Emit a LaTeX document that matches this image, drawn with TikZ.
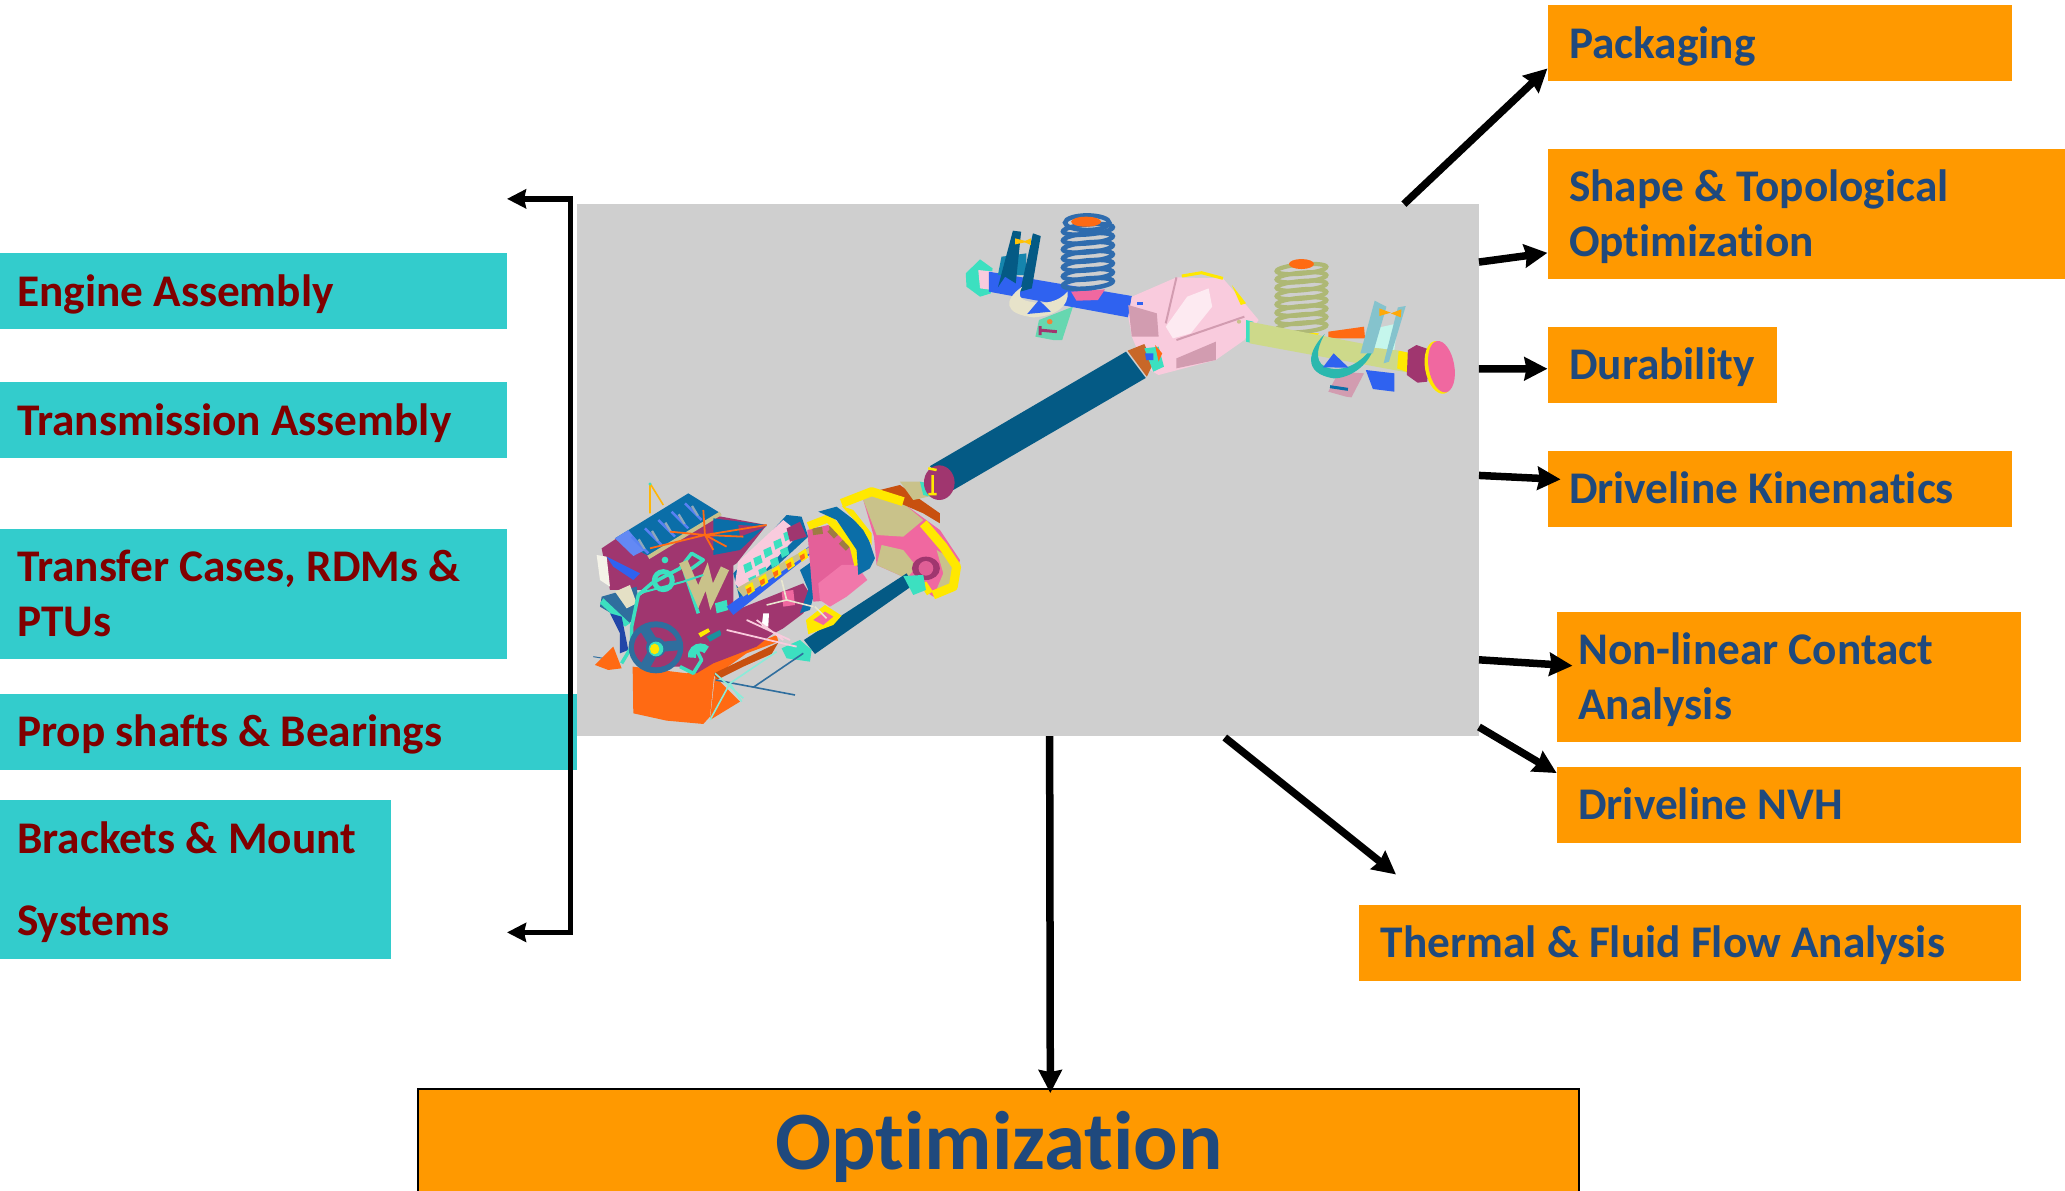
\documentclass[tikz,border=0pt]{standalone}
\usepackage{fontspec}
\setmainfont{Carlito}[Ligatures=NoCommon]
\usetikzlibrary{arrows.meta,calc}
\definecolor{tealbox}{HTML}{33CCCC}
\definecolor{orangebox}{HTML}{FF9900}
\definecolor{darkred}{HTML}{800000}
\definecolor{navytext}{HTML}{1F497D}
\definecolor{imggray}{HTML}{CFCFCF}
\definecolor{shaft}{HTML}{045A85}
\definecolor{purp}{HTML}{A0366F}
\definecolor{cyn}{HTML}{3CE0C0}
\definecolor{pk}{HTML}{F068A0}
\definecolor{stl}{HTML}{2F6E9E}
\definecolor{org}{HTML}{FF6A13}
\definecolor{brn}{HTML}{C8500F}
\definecolor{ylw}{HTML}{FFE800}
\definecolor{khk}{HTML}{C9C28A}
\definecolor{blu}{HTML}{2F62F0}
\definecolor{dkb}{HTML}{0B6EA8}
\definecolor{lpk}{HTML}{F9CBDD}
\definecolor{rose}{HTML}{D29CB0}
\definecolor{olv}{HTML}{CDD98A}
\newcommand\tp{\rule{0pt}{41pt}}
\newcommand\bt{\rule[-11pt]{0pt}{11pt}}
\newcommand\lblfont{\fontsize{45.3}{55}\selectfont\bfseries}
\newcommand\lblfontwide{\fontsize{45.3}{82}\selectfont\bfseries}
\tikzset{
  tealnode/.style={draw=none,fill=tealbox,text=darkred,anchor=north west,inner xsep=17pt,inner ysep=0pt,align=flush left,font=\lblfont},
  orangenode/.style={draw=none,fill=orangebox,text=navytext,anchor=north west,inner xsep=21.5pt,inner ysep=0pt,align=flush left,font=\lblfont},
  arrowline/.style={draw=black,line width=7.5pt,-{Stealth[length=23pt,width=23pt,inset=2pt]}},
  bracketline/.style={draw=black,line width=5.5pt,{Stealth[length=19pt,width=19pt,inset=2pt]}-{Stealth[length=19pt,width=19pt,inset=2pt]}},
}
\begin{document}
\begin{tikzpicture}[x=1.317pt,y=-1.317pt]
\useasboundingbox (0,0) rectangle (1568,904.3);
% image panel
\node[fill=imggray,anchor=north west,inner sep=0pt,minimum width=902pt,minimum height=532pt] (img) at (438,155) {};
% teal boxes
\node[tealnode,text width=473pt,minimum height=76pt] (engine) at (0,192) {\tp Engine Assembly\bt};
\node[tealnode,text width=473pt,minimum height=76pt] (trans) at (0,290) {\tp Transmission Assembly\bt};
\node[tealnode,text width=473pt,minimum height=130pt] (transfer) at (0,401.5) {\tp Transfer Cases, RDMs \&\\PTUs\bt};
\node[tealnode,text width=543pt,minimum height=76pt] (prop) at (0,526.5) {\tp Prop shafts \& Bearings\bt};
\node[tealnode,text width=357pt,minimum height=159pt,font=\lblfontwide] (brackets) at (0,607) {\tp Brackets \& Mount\\Systems\bt};
% orange boxes
\node[orangenode,text width=421.5pt,minimum height=76pt] (pack) at (1175,4) {\tp Packaging\bt};
\node[orangenode,text width=474.6pt,minimum height=130pt] (shape) at (1175,113) {\tp Shape \& Topological\\Optimization\bt};
\node[orangenode,text width=186pt,minimum height=76pt] (dur) at (1175,248) {\tp Durability\bt};
\node[orangenode,text width=421.5pt,minimum height=76pt] (dk) at (1175,342) {\tp Driveline Kinematics\bt};
\node[orangenode,text width=421.5pt,minimum height=130pt] (nl) at (1182,464.5) {\tp Non-linear Contact\\Analysis\bt};
\node[orangenode,text width=421.5pt,minimum height=76pt] (nvh) at (1182,582) {\tp Driveline NVH\bt};
\node[orangenode,text width=619pt,minimum height=76pt] (therm) at (1032,687) {\tp Thermal \& Fluid Flow Analysis\bt};
\node[draw=black,line width=2pt,fill=orangebox,anchor=north west,inner sep=0pt,minimum width=1161pt,minimum height=111pt,text=navytext,font=\fontsize{83}{90}\selectfont\bfseries] (opt) at (317,826) {\rule[-20pt]{0pt}{90pt}Optimization};

% upper prop shaft (in picture units)
\fill[shaft] (706,354) -- (855,267) -- (870,287) -- (724,372) -- cycle;

% ---- engine, transmission, transfer case
\begin{scope}[shift={(432.8,341.7)},x=0.3333pt,y=-0.3333pt]
  % guide lines behind
  \draw[stl,line width=1pt] (70,620) -- (130,630);
  % foot
  \fill[org] (75,645) -- (130,590) -- (155,655) -- (115,660) -- cycle;
  % oil pan
  \fill[org] (188,650) -- (190,790) -- (290,812) -- (400,822) -- (420,800) -- (432,680) -- (530,610) -- (625,575) -- (620,555) -- (430,635) -- (350,670) -- cycle;
  \fill[brn] (432,670) -- (625,578) -- (605,612) -- (520,650) -- (440,690) -- cycle;
  \fill[org] (435,680) -- (510,755) -- (420,810) -- cycle;
  % cylinder bank left: purple underside
  \fill[purp] (95,295) -- (140,265) -- (240,320) -- (400,190) -- (590,225) -- (500,340) -- (400,400) -- (240,420) -- (120,420) -- cycle;
  % valve cover
  \fill[dkb] (135,265) -- (355,130) -- (452,190) -- (240,320) -- cycle;
  \fill[blu!75!white] (135,265) -- (175,240) -- (225,300) -- (190,318) -- cycle;
  \foreach \a/\b in {185/260,225/235,265/210,305/185,345/160}{
    \draw[blu!80!white,line width=2.5pt] (\a,\b) -- +(50,50);
    \fill[imggray!60!stl] (\a+18,\b+10) -- +(6,-4) -- +(24,26) -- +(18,28) -- cycle;
  }
  \draw[khk,line width=4pt] (235,322) -- (452,190);
  \fill[dkb] (430,205) -- (590,225) -- (510,300) -- (430,315) -- cycle;
  \fill[purp] (505,225) -- (590,230) -- (510,260) -- cycle;
  % left accessories
  \fill[white!80!khk] (80,315) -- (110,320) -- (120,410) -- (90,390) -- cycle;
  \fill[blu] (110,320) -- (210,370) -- (190,390) -- (130,350) -- cycle;
  \fill[stl] (95,440) -- (200,410) -- (210,500) -- (175,520) -- (90,470) -- cycle;
  \fill[khk!50!white] (135,425) -- (180,405) -- (200,460) -- (170,475) -- cycle;
  \fill[cyn] (90,460) -- (100,445) -- (180,520) -- (165,530) -- cycle;
  \fill[blu!70!black] (120,490) -- (155,500) -- (175,600) -- (150,610) -- (150,550) -- cycle;
  % front face
  \fill[purp] (180,590) -- (185,530) -- (205,440) -- (335,360) -- (490,340) -- (490,470) -- (640,525) -- (560,590) -- (430,640) -- (380,670) -- (330,650) -- (215,650) -- cycle;
  \draw[cyn,line width=3.5pt,line join=round] (155,640) -- (185,590) -- (185,530) -- (205,435) -- (245,400) -- (330,355) -- (365,310) -- (400,330) -- (380,345) -- (345,370) -- (385,490);
  \draw[cyn,line width=3.5pt,line join=round] (375,590) -- (395,630) -- (370,670) -- (330,650);
  \draw[khk,line width=9pt] (340,335) -- (385,440) -- (410,380) -- (425,440) -- (465,355);
  \draw[cyn,line width=5pt] (280,392) circle[radius=27];
  \fill[cyn] (285,330) circle[radius=10];
  \fill[cyn] (435,460) -- (470,450) -- (475,480) -- (440,490) -- cycle;
  \draw[cyn,line width=2pt] (215,428) -- (340,395) -- (400,375);
  % pulley
  \fill[stl] (258,592) ellipse[x radius=82,y radius=78];
  \fill[purp] (258,592) ellipse[x radius=66,y radius=60];
  \fill[stl] (258,592) ellipse[x radius=30,y radius=30];
  \draw[stl,line width=10pt] (258,592) -- (220,530) (258,592) -- (335,585) (258,592) -- (225,650);
  \fill[cyn] (258,597) ellipse[x radius=22,y radius=22];
  \fill[ylw] (254,597) ellipse[x radius=14,y radius=16];
  % alternator
  \draw[cyn,line width=8pt] (410,600) arc[start angle=-45,end angle=-190,radius=26];
  \fill[ylw] (385,550) -- (415,535) -- (420,545) -- (392,562) -- cycle;
  \fill[shaft!60!cyn] (410,560) -- (450,540) -- (455,555) -- (420,575) -- cycle;
  % lower right block
  \fill[purp] (430,625) -- (475,490) -- (700,400) -- (725,440) -- (700,490) -- (640,535) -- (520,600) -- cycle;
  \fill[dkb] (690,360) -- (725,335) -- (740,400) -- (720,480) -- (690,490) -- (715,420) -- cycle;
  % right cylinder head
  \fill[dkb] (490,370) -- (650,195) -- (695,200) -- (715,260) -- (510,450) -- cycle;
  \fill[lpk] (505,335) -- (640,210) -- (690,250) -- (520,430) -- (495,400) -- cycle;
  \foreach \a/\b in {520/345,550/325,580/300,610/275,640/250,535/385,565/360,600/330,630/300}{
    \fill[cyn] (\a,\b) -- +(22,-10) -- +(28,12) -- +(6,24) -- cycle;
  }
  \fill[purp] (650,235) -- (690,215) -- (710,260) -- (660,275) -- cycle;
  % yellow fuel rail
  \fill[blu] (470,470) -- (730,280) -- (725,310) -- (490,495) -- cycle;
  \fill[khk] (500,415) -- (730,285) -- (725,305) -- (520,440) -- cycle;
  \foreach \a/\b in {525/410,565/385,605/360,645/335,685/310}{
    \fill[ylw] (\a,\b) -- +(22,-14) -- +(30,12) -- +(10,26) -- cycle;
    \fill[org] (\a+4,\b+8) -- +(14,-8) -- +(16,6) -- +(4,14) -- cycle;
  }
  \fill[pk] (635,425) -- (670,420) -- (675,465) -- (640,470) -- cycle;
  \fill[white] (580,490) -- (597,490) -- (595,530) -- (575,530) -- cycle;
  % bell housing
  \fill[pk!85!purp] (712,240) -- (775,225) -- (850,280) -- (870,370) -- (800,450) -- (730,455) -- (725,400) -- cycle;
  \fill[pk!90!white] (745,400) -- (815,345) -- (860,345) -- (892,390) -- (830,440) -- (780,470) -- (750,450) -- cycle;
  \draw[brn!70!cyn,line width=7pt,dash pattern=on 10pt off 7pt] (728,245) -- (780,238) -- (835,295);
  \draw[ylw,line width=8pt] (715,228) -- (775,205) -- (850,285) -- (865,345);
  \fill[dkb] (745,185) -- (800,170) -- (885,235) -- (915,325) -- (900,355) -- (865,375) -- (860,300) -- (800,210) -- cycle;
  \fill[ylw] (815,168) -- (850,180) -- (905,250) -- (905,285) -- (880,240) -- cycle;
  % transfer case
  \fill[pk] (880,150) -- (905,125) -- (1000,160) -- (1110,240) -- (1170,330) -- (1150,420) -- (1090,440) -- (1010,385) -- (920,345) -- (912,260) -- cycle;
  \fill[khk] (880,150) -- (905,125) -- (1000,160) -- (1060,210) -- (1000,260) -- (920,255) -- cycle;
  \fill[khk] (920,345) -- (935,285) -- (1000,300) -- (1040,350) -- (1010,385) -- cycle;
  \fill[khk] (1100,300) -- (1165,340) -- (1150,420) -- (1095,430) -- (1120,370) -- cycle;
  \fill[brn] (910,125) -- (990,105) -- (1060,155) -- (1110,190) -- (1110,220) -- (1060,190) -- cycle;
  \draw[ylw,line width=9pt,line join=round] (815,160) -- (905,125) -- (1000,155);
  \draw[ylw,line width=9pt,line join=round] (1060,220) -- (1120,290) -- (1160,350) -- (1150,410) -- (1090,435);
  \draw[ylw,line width=7pt] (1060,400) -- (1080,430);
  \fill[purp] (1068,355) ellipse[x radius=42,y radius=35];
  \fill[pk!80!purp] (1068,355) ellipse[x radius=22,y radius=22];
  \fill[khk] (990,95) -- (1050,95) -- (1075,140) -- (1030,150) -- cycle;
  \fill[cyn] (1050,95) -- (1078,100) -- (1080,140) -- (1060,135) -- cycle;
  % joint
  \fill[purp] (1108,98) ellipse[x radius=46,y radius=52];
  \draw[ylw,line width=2.5pt] (1088,75) -- (1088,135) (1075,55) -- (1100,60) (1075,132) -- (1100,132);
  % lower prop shaft
  \fill[shaft] (702,570) -- (1010,370) -- (1030,405) -- (735,612) -- cycle;
  \fill[cyn] (1000,378) -- (1060,375) -- (1068,420) -- (1030,435) -- cycle;
  \fill[cyn] (635,595) -- (690,570) -- (725,600) -- (720,635) -- (650,625) -- cycle;
  % mount
  \fill[ylw] (708,510) -- (765,465) -- (815,497) -- (790,525) -- (715,553) -- cycle;
  \fill[pk] (730,510) -- (765,485) -- (790,500) -- (760,525) -- cycle;
  % wires
  \draw[ylw!60!org,line width=1.6pt] (240,100) -- (240,190) (240,100) -- (280,165);
  \fill[cyn] (240,102) circle[radius=5];
  \draw[org,line width=1.8pt] (405,255) -- (300,245) (405,255) -- (240,295) (405,255) -- (590,225) (405,255) -- (470,290) (405,255) -- (400,180) (405,255) -- (430,300) (405,255) -- (520,260);
  \draw[white!60!khk,line width=1.6pt] (590,465) -- (650,450) -- (730,470) (650,450) -- (635,390) (735,470) -- (770,505);
  \draw[lpk,line width=1.8pt] (470,540) -- (680,590) (530,510) -- (660,570) (560,510) -- (640,570);
  \draw[stl,line width=1.6pt] (437,690) -- (675,735) (550,712) -- (700,610);
  \draw[cyn!60!white,line width=1.6pt] (480,700) -- (420,810) (480,700) -- (515,755) (435,670) -- (520,745) (480,700) -- (620,605);
\end{scope}

% ---- rear axle
\begin{scope}[shift={(706.2,144.3)},x=0.35714pt,y=-0.3333pt]
  % left bracket below tube
  \fill[cyn!70!khk] (295,440) -- (305,390) -- (400,350) -- (370,450) -- (345,450) -- cycle;
  \draw[purp,line width=3pt] (305,420) -- (355,425) (308,408) -- (308,435);
  \fill[org!70!khk] (335,395) circle[radius=8];
  % left tube
  \fill[cyn] (100,250) -- (140,208) -- (175,235) -- (170,310) -- (140,320) -- (102,290) -- cycle;
  \fill[lpk] (135,240) -- (180,245) -- (175,300) -- (140,295) -- cycle;
  \fill[blu] (165,245) -- (565,318) -- (555,382) -- (165,305) -- cycle;
  % left spring
  \fill[pk] (395,305) -- (490,298) -- (470,330) -- (410,332) -- cycle;
  \foreach \yy in {280,253,226,199,172,145,118}{
    \draw[stl!80!blu,line width=4.5pt] (442,\yy) [rotate around={5:(442,\yy)}] ellipse[x radius=70,y radius=15];
  }
  \draw[stl!80!blu,line width=4.5pt] (440,98) ellipse[x radius=62,y radius=22];
  \fill[org] (437,95) ellipse[x radius=42,y radius=15];
  % left strut and brackets
  \fill[dkb!80!cyn] (200,200) -- (270,190) -- (268,255) -- (190,255) -- cycle;
  \fill[shaft] (190,292) -- (232,122) -- (255,125) -- (240,280) -- (210,260) -- cycle;
  \fill[shaft] (252,305) -- (288,130) -- (310,138) -- (285,295) -- cycle;
  \fill[ylw!70!org] (238,145) -- (275,155) -- (238,163) -- cycle;
  \fill[ylw!70!org] (282,145) -- (262,155) -- (282,165) -- cycle;
  % cream U
  \fill[khk!45!white] (258,290) .. controls (205,330) and (205,372) .. (290,382) .. controls (350,378) and (390,350) .. (385,305) .. controls (360,335) and (320,345) .. (280,335) .. controls (250,330) and (245,315) .. cycle;
  \fill[blu] (272,372) -- (305,330) -- (338,365) -- cycle;
  % differential
  \fill[lpk] (565,320) -- (690,262) -- (820,265) -- (885,345) -- (920,390) -- (880,450) -- (800,510) -- (640,555) -- (600,530) -- (565,440) -- (555,380) -- cycle;
  \fill[rose] (555,345) -- (635,370) -- (640,440) -- (590,440) -- (565,440) -- cycle;
  \fill[rose] (690,505) -- (800,455) -- (800,510) -- (690,535) -- cycle;
  \fill[white!60!lpk] (660,410) -- (720,320) -- (780,295) -- (790,350) -- (730,430) -- (680,445) -- cycle;
  \draw[ylw,line width=3pt] (705,258) -- (760,248) -- (820,265);
  \fill[ylw] (845,285) -- (885,340) -- (870,345) -- cycle;
  \draw[rose,line width=2pt] (690,450) -- (880,380) (690,262) -- (660,400);
  \fill[khk] (865,395) circle[radius=6];
  \fill[blu] (580,335) rectangle (595,345);
  % right spring
  \fill[ylw] (1000,425) -- (1090,430) -- (1060,458) -- (1015,450) -- cycle;
  \foreach \yy in {412,387,362,337,312,287,262,237}{
    \draw[olv!85!black,line width=4.2pt] (1040,\yy) [rotate around={5:(1040,\yy)}] ellipse[x radius=70,y radius=14];
  }
  \fill[org] (1040,222) ellipse[x radius=35,y radius=15];
  % right tube
  \fill[org] (1115,425) -- (1215,410) -- (1218,445) -- (1115,445) -- cycle;
  \fill[cyn] (885,390) -- (905,395) -- (905,460) -- (885,455) -- cycle;
  \fill[olv] (895,395) -- (1350,490) -- (1340,548) -- (895,460) -- cycle;
  \fill[ylw] (1312,482) -- (1348,490) -- (1340,548) -- (1308,535) -- cycle;
  % right brackets below
  \fill[rose] (1115,605) -- (1145,545) -- (1215,550) -- (1180,622) -- (1165,620) -- cycle;
  \draw[dkb,line width=3pt] (1120,590) -- (1170,598);
  \fill[blu] (1220,540) -- (1300,550) -- (1300,605) -- (1240,597) -- cycle;
  % teal U
  \fill[cyn!70!shaft] (1105,432) .. controls (1060,480) and (1040,550) .. (1130,565) .. controls (1180,565) and (1235,520) .. (1245,462) .. controls (1215,510) and (1170,545) .. (1120,535) .. controls (1075,525) and (1080,480) .. cycle;
  \fill[blu] (1100,532) -- (1130,490) -- (1172,533) -- cycle;
  % right strut
  \fill[white!70!cyn] (1225,420) -- (1310,400) -- (1300,480) -- (1220,470) -- cycle;
  \fill[cyn!40!stl!60!white] (1205,490) -- (1245,332) -- (1278,350) -- (1240,490) -- cycle;
  \fill[cyn!40!stl!60!white] (1270,520) -- (1310,352) -- (1332,348) -- (1285,515) -- cycle;
  \fill[org!50!ylw] (1258,355) -- (1290,368) -- (1258,378) -- cycle;
  \fill[org!50!ylw] (1320,358) -- (1290,370) -- (1318,382) -- cycle;
  % hub and disc
  \fill[purp] (1338,480) -- (1362,465) -- (1402,480) -- (1392,575) -- (1365,578) -- (1335,555) -- cycle;
  \fill[ylw] (1426,532) [rotate around={10:(1426,532)}] ellipse[x radius=40,y radius=80];
  \fill[pk] (1432,530) [rotate around={10:(1432,530)}] ellipse[x radius=36,y radius=78];
  % flange at differential
  \fill[brn!80!khk] (553,482) -- (600,462) -- (625,520) -- (607,560) -- cycle;
  \fill[cyn] (600,475) -- (640,470) -- (655,530) -- (625,545) -- cycle;
  \fill[org] (630,465) -- (650,490) -- (640,515) -- cycle;
  \fill[blu] (602,490) -- (625,490) -- (625,510) -- (605,510) -- cycle;
\end{scope}

% connector anchors
\coordinate (startpack) at (1066,155);
\coordinate (startshape) at (1123,199);
\coordinate (startdur) at (1123,280);
\coordinate (startdk) at (1123,361);
\coordinate (startnl) at (1123,501);
\coordinate (startnvh) at (1123,552);
\coordinate (starttherm) at (930,560);
\coordinate (startopt) at (797,559);
\coordinate (brtop) at (385,151);
\coordinate (brmidtop) at (433,151);
\coordinate (brmidbot) at (433,708);
\coordinate (brbot) at (385,708);
% connectors
\draw[bracketline,line join=miter] (brtop) -- (brmidtop) -- (brmidbot) -- (brbot);
\draw[arrowline] (startpack) -- ($(pack.west)+(0,19)$);
\draw[arrowline] (startshape) -- ($(shape.west)+(0,29.5)$);
\draw[arrowline] (startdur) -- ($(dur.west)+(0,3)$);
\draw[arrowline] (startdk) -- ($(dk.west)+(10,-7)$);
\draw[arrowline] (startnl) -- ($(nl.west)+(12,-8.5)$);
\draw[arrowline] (startnvh) -- ($(nvh.north west)+(0,5)$);
\draw[arrowline] (starttherm) -- ($(therm.north west)+(28,-23)$);
\draw[arrowline] (startopt) -- ($(opt.north)+(39,4)$);
\end{tikzpicture}
\end{document}
